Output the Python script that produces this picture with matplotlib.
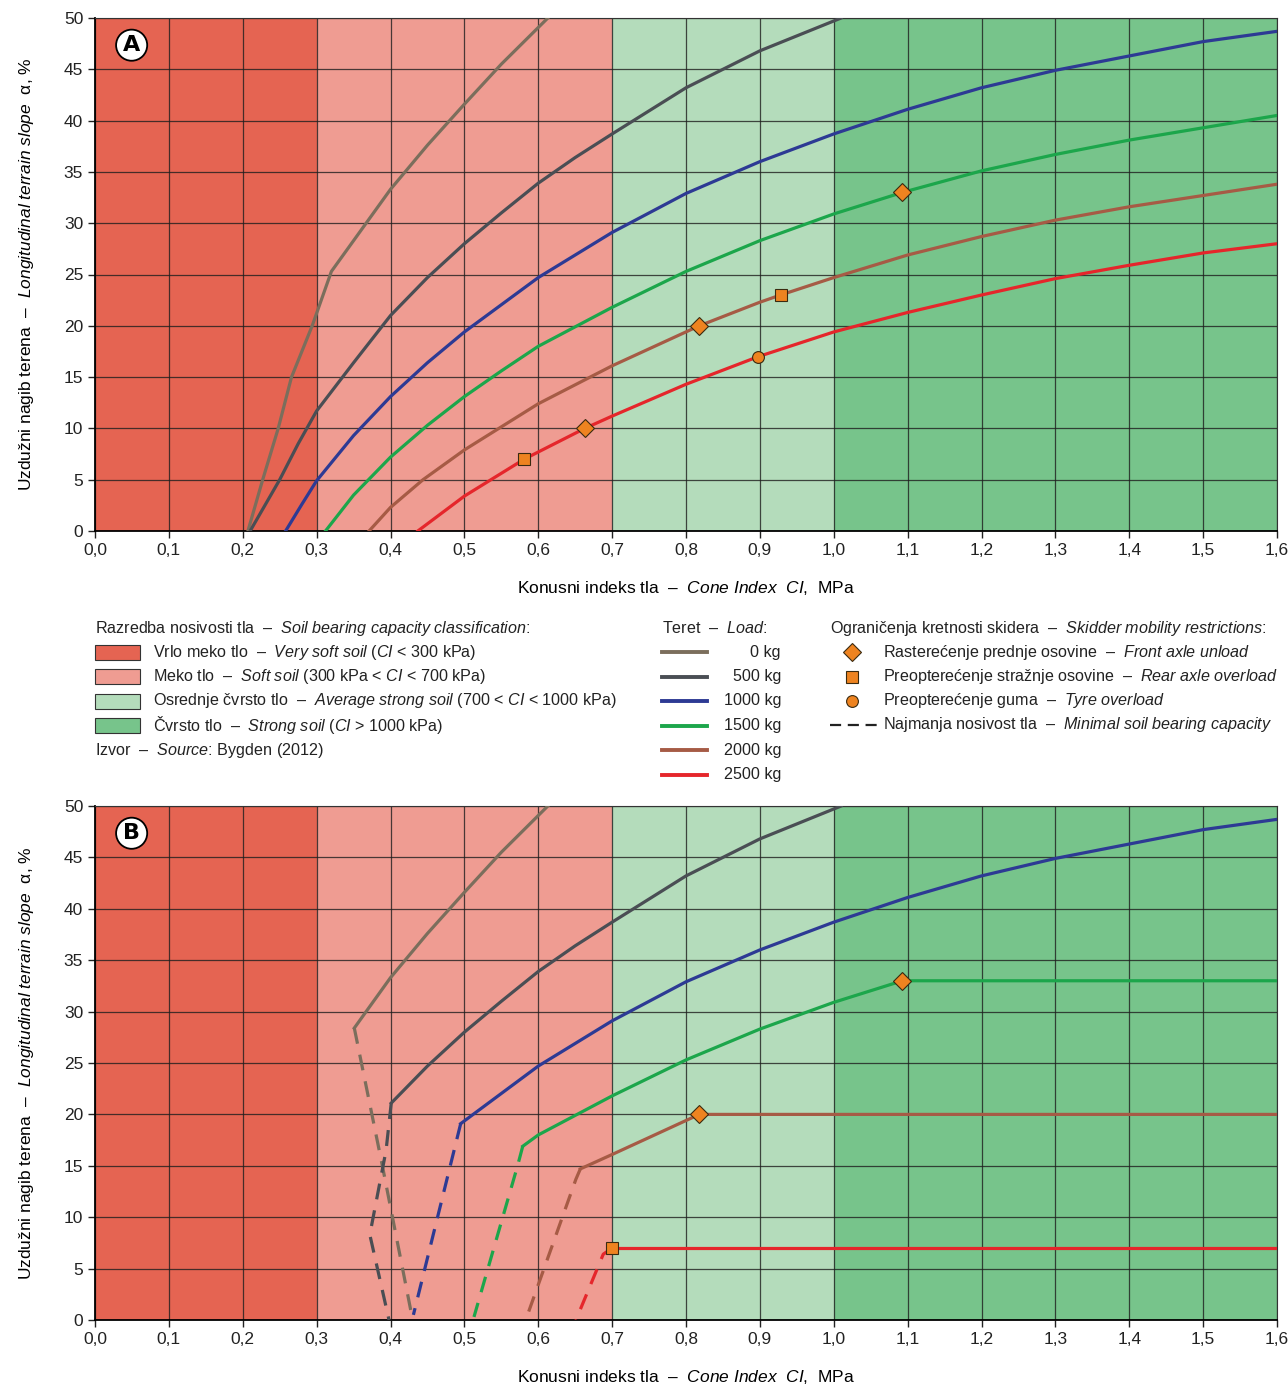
import numpy as np
import matplotlib
matplotlib.use('Agg')
import matplotlib.pyplot as plt
from matplotlib import font_manager
from matplotlib.patches import Rectangle
from matplotlib.lines import Line2D
from matplotlib.ticker import FuncFormatter

names = {f.name for f in font_manager.fontManager.ttflist}
fam = 'Liberation Sans Narrow' if 'Liberation Sans Narrow' in names else 'Liberation Sans'
plt.rcParams['font.family'] = [fam, 'DejaVu Sans']
plt.rcParams['mathtext.fontset'] = 'custom'
plt.rcParams['mathtext.rm'] = fam
plt.rcParams['mathtext.it'] = fam + ':italic'

# soil classes (MPa)
band_edges = [0.0, 0.3, 0.7, 1.0, 1.6]
band_colors = ['#e56452', '#ef9c92', '#b4dcbb', '#77c48b']

loads = ['0 kg', '500 kg', '1000 kg', '1500 kg', '2000 kg', '2500 kg']
load_colors = ['#7b6e5c', '#4a4e54', '#2d3a94', '#1ca64b', '#a65b45', '#e5262b']

# panel A curves: cone index (MPa) vs slope (%)
ci_0 = [0.207, 0.227, 0.248, 0.266, 0.294, 0.320, 0.351, 0.367, 0.40, 0.45, 0.50, 0.55, 0.613]
sl_0 = [0, 5, 10, 15, 20, 25.3, 28.4, 30, 33.3, 37.6, 41.6, 45.5, 50]
ci_500 = [0.21, 0.23, 0.25, 0.275, 0.30, 0.35, 0.40, 0.45, 0.50, 0.55, 0.60, 0.65, 0.70, 0.80, 0.90, 1.01]
sl_500 = [0, 2.5, 5, 8.5, 11.7, 16.4, 21.0, 24.7, 28.0, 31.0, 33.9, 36.4, 38.7, 43.2, 46.8, 50]
ci_1000 = [0.258, 0.28, 0.30, 0.35, 0.40, 0.45, 0.50, 0.60, 0.70, 0.80, 0.90, 1.0, 1.1, 1.2, 1.3, 1.4, 1.5, 1.6]
sl_1000 = [0, 2.6, 4.9, 9.3, 13.1, 16.4, 19.4, 24.7, 29.1, 32.9, 36.0, 38.7, 41.1, 43.2, 44.9, 46.3, 47.7, 48.7]
ci_1500 = [0.312, 0.35, 0.40, 0.45, 0.50, 0.55, 0.60, 0.70, 0.80, 0.90, 1.0, 1.093, 1.2, 1.3, 1.4, 1.5, 1.6]
sl_1500 = [0, 3.5, 7.2, 10.3, 13.1, 15.6, 18.0, 21.8, 25.3, 28.3, 30.9, 33.0, 35.1, 36.7, 38.1, 39.3, 40.5]
ci_2000 = [0.371, 0.40, 0.444, 0.50, 0.60, 0.70, 0.818, 0.90, 0.928, 1.0, 1.1, 1.2, 1.3, 1.4, 1.5, 1.6]
sl_2000 = [0, 2.3, 5, 7.9, 12.4, 16.1, 20, 22.3, 23, 24.7, 26.9, 28.7, 30.3, 31.6, 32.7, 33.8]
ci_2500 = [0.437, 0.50, 0.581, 0.60, 0.663, 0.70, 0.80, 0.898, 1.0, 1.1, 1.2, 1.3, 1.4, 1.5, 1.6]
sl_2500 = [0, 3.4, 7, 7.7, 10, 11.2, 14.3, 17, 19.4, 21.3, 23.0, 24.6, 25.9, 27.1, 28.0]

curves_ci = [ci_0, ci_500, ci_1000, ci_1500, ci_2000, ci_2500]
curves_sl = [sl_0, sl_500, sl_1000, sl_1500, sl_2000, sl_2500]

# restriction markers, panel A
front_ci_a = [0.663, 0.818, 1.093]
front_sl_a = [10, 20, 33]
rear_ci_a = [0.581, 0.928]
rear_sl_a = [7, 23]
tyre_ci_a = [0.898]
tyre_sl_a = [17]

# panel B: minimal soil bearing capacity (dashed) per load
min_ci = [[0.351, 0.389, 0.43],
          [0.401, 0.394, 0.372, 0.398],
          [0.495, 0.431],
          [0.579, 0.572, 0.513],
          [0.657, 0.651, 0.583],
          [0.70, 0.688, 0.651]]
min_sl = [[28.4, 15, 0],
          [21.1, 16.5, 8.3, 0],
          [19.1, 0.5],
          [16.9, 15, 0.3],
          [14.7, 13.7, 0],
          [7, 6.4, 0]]
# limit where curve turns flat (None = no limit)
cap_ci = [None, None, None, 1.093, 0.818, 0.70]
cap_sl = [None, None, None, 33, 20, 7]
front_ci_b = [0.818, 1.093]
front_sl_b = [20, 33]
rear_ci_b = [0.70]
rear_sl_b = [7]

W, H = 1288, 1387
fig = plt.figure(figsize=(W / 100, H / 100), dpi=100)

mk_color = '#ee8320'
lw = 2.3


def setup(ax, letter):
    for i in range(4):
        ax.axvspan(band_edges[i], band_edges[i + 1], color=band_colors[i], lw=0, zorder=0)
    ax.set_xlim(0, 1.6)
    ax.set_ylim(0, 50)
    ax.set_xticks(np.arange(0, 1.61, 0.1))
    ax.set_yticks(np.arange(0, 51, 5))
    ax.xaxis.set_major_formatter(FuncFormatter(lambda v, p: f'{v:.1f}'.replace('.', ',')))
    ax.grid(True, color='#1e1e1e', lw=0.9, alpha=0.8, zorder=1)
    ax.set_axisbelow(True)
    ax.tick_params(direction='out', length=5, width=1, labelsize=12.5, colors='#222222')
    for s in ['top', 'right']:
        ax.spines[s].set_linewidth(0.8)
        ax.spines[s].set_color('#333333')
    for s in ['left', 'bottom']:
        ax.spines[s].set_linewidth(1.3)
    ax.set_xlabel(r'Konusni indeks tla  –  $\mathit{Cone\ Index\ \ CI}$,  MPa', fontsize=12.5, labelpad=15)
    ax.set_ylabel(r'Uzdužni nagib terena  –  $\mathit{Longitudinal\ terrain\ slope}$  α, %', fontsize=12.5, labelpad=20)
    ax.text(0.031, 0.947, letter, transform=ax.transAxes, ha='center', va='center',
            fontsize=16, fontweight='bold', family='DejaVu Sans', zorder=6,
            bbox=dict(boxstyle='circle,pad=0.25', fc='white', ec='black', lw=1.3))


def markers(ax, fci, fsl, rci, rsl, tci, tsl):
    ax.plot(fci, fsl, 'D', ms=9, mfc=mk_color, mec='#3a2a10', mew=0.8, ls='none', zorder=5)
    ax.plot(rci, rsl, 's', ms=8, mfc=mk_color, mec='#3a2a10', mew=0.8, ls='none', zorder=5)
    if tci:
        ax.plot(tci, tsl, 'o', ms=8.5, mfc=mk_color, mec='#3a2a10', mew=0.8, ls='none', zorder=5)


# panel A
axA = fig.add_axes([95 / W, 1 - 531 / H, 1182 / W, 513 / H])
setup(axA, 'A')
for ci, sl, c in zip(curves_ci, curves_sl, load_colors):
    axA.plot(ci, sl, color=c, lw=lw, zorder=3)
markers(axA, front_ci_a, front_sl_a, rear_ci_a, rear_sl_a, tyre_ci_a, tyre_sl_a)

# panel B
axB = fig.add_axes([95 / W, 1 - 1320 / H, 1182 / W, 514 / H])
setup(axB, 'B')
for k in range(6):
    ci = np.array(curves_ci[k])
    sl = np.array(curves_sl[k])
    c0, s0 = min_ci[k][0], min_sl[k][0]
    if cap_ci[k] is None:
        keep = ci > c0 + 0.005
        xs = np.concatenate([[c0], ci[keep]])
        ys = np.concatenate([[s0], sl[keep]])
    else:
        keep = (ci > c0 + 0.005) & (ci < cap_ci[k] - 0.005)
        xs = np.concatenate([[c0], ci[keep], [cap_ci[k], 1.6]])
        ys = np.concatenate([[s0], sl[keep], [cap_sl[k], cap_sl[k]]])
    axB.plot(xs, ys, color=load_colors[k], lw=lw, zorder=3)
    axB.plot(min_ci[k], min_sl[k], color=load_colors[k], lw=lw, ls=(0, (5, 3.5)), zorder=3)
markers(axB, front_ci_b, front_sl_b, rear_ci_b, rear_sl_b, [], [])


# legend block
FS = 11.6


def ftext(x, y, s, **kw):
    fig.text(x / W, 1 - y / H, s, va='center', fontsize=FS, color='#222222', **kw)


ftext(95, 628, r'Razredba nosivosti tla  –  $\mathit{Soil\ bearing\ capacity\ classification}$:')
soil_labels = [r'Vrlo meko tlo  –  $\mathit{Very\ soft\ soil}$ ($\mathit{CI}$ < 300 kPa)',
               r'Meko tlo  –  $\mathit{Soft\ soil}$ (300 kPa < $\mathit{CI}$ < 700 kPa)',
               r'Osrednje čvrsto tlo  –  $\mathit{Average\ strong\ soil}$ (700 < $\mathit{CI}$ < 1000 kPa)',
               r'Čvrsto tlo  –  $\mathit{Strong\ soil}$ ($\mathit{CI}$ > 1000 kPa)']
for i, lab in enumerate(soil_labels):
    y = 652 + i * 24.5
    fig.add_artist(Rectangle((95 / W, 1 - (y + 7.5) / H), 45 / W, 15 / H, transform=fig.transFigure,
                             fc=band_colors[i], ec='#333333', lw=0.8))
    ftext(153, y, lab)
ftext(95, 750, r'Izvor  –  $\mathit{Source}$: Bygden (2012)')

ftext(662, 628, r'Teret  –  $\mathit{Load}$:')
for i, lab in enumerate(loads):
    y = 652 + i * 24.5
    fig.add_artist(Line2D([662 / W, 707 / W], [1 - y / H] * 2, transform=fig.transFigure,
                          color=load_colors[i], lw=2.8))
    ftext(781, y, lab, ha='right')

ftext(830, 628, r'Ograničenja kretnosti skidera  –  $\mathit{Skidder\ mobility\ restrictions}$:')
mk_rows = [('D', 9, r'Rasterećenje prednje osovine  –  $\mathit{Front\ axle\ unload}$'),
           ('s', 8, r'Preopterećenje stražnje osovine  –  $\mathit{Rear\ axle\ overload}$'),
           ('o', 8.5, r'Preopterećenje guma  –  $\mathit{Tyre\ overload}$')]
for i, (m, ms, lab) in enumerate(mk_rows):
    y = 652 + i * 24.5
    fig.add_artist(Line2D([852 / W], [1 - y / H], transform=fig.transFigure, marker=m, ms=ms,
                          mfc=mk_color, mec='#3a2a10', mew=0.8, ls='none'))
    ftext(883, y, lab)
fig.add_artist(Line2D([830 / W, 877 / W], [1 - 725 / H] * 2, transform=fig.transFigure,
                      color='#222222', lw=1.6, ls=(0, (5, 3))))
ftext(883, 725, r'Najmanja nosivost tla  –  $\mathit{Minimal\ soil\ bearing\ capacity}$')

fig.savefig('out.png', dpi=100)
